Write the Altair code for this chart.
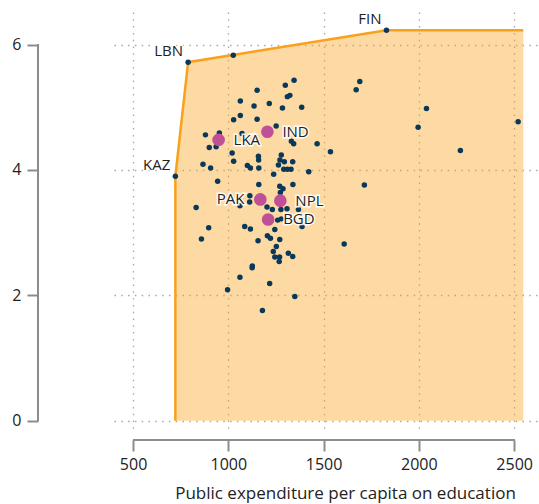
import altair as alt
import pandas as pd

# ---- data ----
x_vals = [1026, 1151, 1299, 1345, 1310, 1323, 1063, 1135, 1215, 1284, 1385, 1028, 1063, 1151,
          1251, 880, 953, 900, 936, 1072, 1331, 1343, 1466, 1536, 1020, 1028, 1158, 1159, 1278,
          1271, 1294, 1338, 867, 907, 1100, 1116, 1160, 1263, 1291, 1310, 1329, 1422, 1238, 944,
          1160, 1270, 1287, 1339, 1273, 1113, 1112, 831, 1061, 1203, 1231, 1276, 1308, 1368, 1259,
          1278, 1387, 897, 1086, 1116, 1244, 859, 1156, 1205, 1221, 1270, 1252, 1608, 1236, 1315,
          1338, 1244, 1269, 1267, 1126, 1125, 1061, 1217, 996, 1349, 1179, 1671, 1690, 1996, 2040,
          2218, 2521, 1714]
y_vals = [5.83, 5.27, 5.35, 5.43, 5.17, 5.19, 5.10, 5.02, 5.06, 4.99, 5.00, 4.80, 4.87, 4.81,
          4.70, 4.56, 4.59, 4.36, 4.37, 4.58, 4.46, 4.42, 4.42, 4.29, 4.27, 4.14, 4.22, 4.16, 4.24,
          4.16, 4.13, 4.13, 4.09, 4.03, 4.07, 4.03, 4.03, 4.08, 4.01, 4.01, 4.01, 3.97, 3.93, 3.82,
          3.77, 3.74, 3.70, 3.77, 3.64, 3.59, 3.49, 3.40, 3.43, 3.41, 3.37, 3.37, 3.38, 3.37, 3.20,
          3.22, 3.10, 3.08, 3.10, 3.06, 3.05, 2.90, 2.87, 2.95, 2.91, 2.89, 2.78, 2.82, 2.70, 2.67,
          2.62, 2.61, 2.61, 2.54, 2.47, 2.44, 2.29, 2.19, 2.09, 1.98, 1.76, 5.28, 5.41, 4.68, 4.98,
          4.31, 4.77, 3.76]

front_codes = ["KAZ", "LBN", "FIN"]
front_x = [722, 789, 1830]
front_y = [3.90, 5.72, 6.23]
frontier_end_x = 2548

hl_right_codes = ["LKA", "IND", "NPL", "BGD"]
hl_right_x = [949, 1205, 1273, 1209]
hl_right_y = [4.48, 4.61, 3.51, 3.21]
hl_left_codes = ["PAK"]
hl_left_x = [1168]
hl_left_y = [3.53]

x_ticks = [500, 1000, 1500, 2000, 2500]
y_ticks = [0, 2, 4, 6]
x_title = "Public expenditure per capita on education"

# ---- tables ----
dots = pd.DataFrame({"x": x_vals, "y": y_vals})
front = pd.DataFrame({"x": front_x, "y": front_y, "code": front_codes})
area_df = pd.DataFrame({"x": front_x + [frontier_end_x], "y": front_y + [front_y[-1]]})
line_df = pd.DataFrame({
    "x": [front_x[0]] + front_x + [frontier_end_x],
    "y": [0] + front_y + [front_y[-1]],
    "o": list(range(len(front_x) + 2)),
})
hl_r = pd.DataFrame({"x": hl_right_x, "y": hl_right_y, "code": hl_right_codes})
hl_l = pd.DataFrame({"x": hl_left_x, "y": hl_left_y, "code": hl_left_codes})
hl_all = pd.concat([hl_r, hl_l])

FONT = "Open Sans"
TXT = "#222222"
AXC = "#8c8c8c"
xs = alt.Scale(domain=[400, 2620], nice=False, zero=False)
ys = alt.Scale(domain=[-0.18, 6.52], nice=False, zero=False)

x_axis = alt.Axis(values=x_ticks, offset=8, domain=False, tickSize=11, tickWidth=2,
                  tickColor=AXC, labelFontSize=16, labelPadding=5, labelColor=TXT,
                  labelFont=FONT, grid=True, gridDash=[1.5, 5.3], gridColor="#a8a8a8",
                  gridWidth=1.3, titleFont=FONT, titleFontSize=17, format="d",
                  titleFontWeight="normal", titleColor=TXT, titlePadding=13, titleX=231)
y_axis = alt.Axis(values=y_ticks, offset=76, domain=False, tickSize=11, tickWidth=2,
                  tickColor=AXC, labelFontSize=16, labelPadding=6, labelColor=TXT,
                  labelFont=FONT, grid=True, gridDash=[1.5, 5.3], gridColor="#a8a8a8",
                  gridWidth=1.3, format="d")


def X():
    return alt.X("x:Q", scale=xs, axis=x_axis, title=x_title)


def Y():
    return alt.Y("y:Q", scale=ys, axis=y_axis, title=None)


area = alt.Chart(area_df).mark_area(color="#F9A11B", opacity=0.4).encode(
    x=X(), y=Y(), y2=alt.datum(0),
)
line = alt.Chart(line_df).mark_line(color="#F9A11B", strokeWidth=2.5).encode(
    x=X(), y=Y(), order="o:Q",
)
yaxis_line = alt.Chart(dots).mark_rule(color=AXC, strokeWidth=2).encode(
    x=alt.value(-76), y=alt.datum(min(y_ticks)), y2=alt.datum(max(y_ticks)),
)
xaxis_line = alt.Chart(dots).mark_rule(color=AXC, strokeWidth=2).encode(
    y=alt.value(428), x=alt.datum(min(x_ticks)), x2=alt.datum(max(x_ticks)),
)
dark = alt.Chart(dots).mark_circle(size=30, color="#08385a", opacity=1).encode(x=X(), y=Y())
fdots = alt.Chart(front).mark_circle(size=30, color="#08385a", opacity=1).encode(x=X(), y=Y())
pink = alt.Chart(hl_all).mark_circle(size=160, color="#bf5098", opacity=1).encode(x=X(), y=Y())


def labels(df, align, dx, dy):
    halo = alt.Chart(df).mark_text(align=align, baseline="middle", dx=dx, dy=dy, font=FONT,
                                   fontSize=15, stroke="white", strokeWidth=3,
                                   strokeOpacity=0.9, fill="white").encode(
        x=X(), y=Y(), text="code:N")
    txt = alt.Chart(df).mark_text(align=align, baseline="middle", dx=dx, dy=dy, font=FONT,
                                  fontSize=15, color=TXT).encode(x=X(), y=Y(), text="code:N")
    return [halo, txt]


layers = [area, line, dark, fdots, pink]
layers += labels(front, "right", -5, -11.5)
layers += labels(hl_r, "left", 15, 0)
layers += labels(hl_l, "right", -16, 0)
layers += [yaxis_line, xaxis_line]

chart = alt.layer(*layers).properties(
    width=423, height=420,
    background="white",
    autosize=alt.AutoSizeParams(type="none"),
    padding={"left": 114, "top": 12, "right": 2, "bottom": 72},
).configure_view(strokeWidth=0)

chart.save("out.html", embed_options={"renderer": "svg", "actions": False})
